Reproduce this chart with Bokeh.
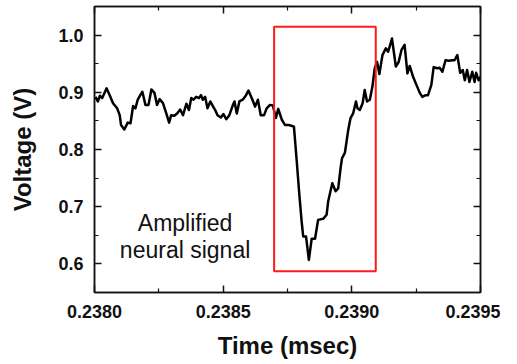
from bokeh.plotting import figure
from bokeh.models import FixedTicker, NumeralTickFormatter, LinearAxis, Range1d
from bokeh.core.properties import value
from bokeh.embed import file_html
from bokeh.resources import INLINE

# ---- data ----
time_ms = [
    0.238004, 0.238013, 0.238021, 0.238030, 0.238047, 0.238059, 0.238072, 0.238088,
    0.238098, 0.238103, 0.238116, 0.238129, 0.238140, 0.238150, 0.238159, 0.238168,
    0.238178, 0.238186, 0.238198, 0.238210, 0.238221, 0.238233, 0.238243, 0.238253,
    0.238266, 0.238279, 0.238290, 0.238298, 0.238310, 0.238321, 0.238333, 0.238344,
    0.238357, 0.238367, 0.238376, 0.238385, 0.238395, 0.238406, 0.238414, 0.238421,
    0.238430, 0.238439, 0.238450, 0.238460, 0.238469, 0.238478, 0.238491, 0.238501,
    0.238512, 0.238524, 0.238538, 0.238544, 0.238553, 0.238563, 0.238576, 0.238589,
    0.238598, 0.238611, 0.238624, 0.238635, 0.238646, 0.238659, 0.238669, 0.238682,
    0.238693, 0.238705, 0.238714, 0.238728, 0.238740, 0.238753, 0.238762, 0.238775,
    0.238786, 0.238796, 0.238805, 0.238811, 0.238822, 0.238833, 0.238844, 0.238857,
    0.238869, 0.238889, 0.238902, 0.238908, 0.238924, 0.238937, 0.238947, 0.238957,
    0.238962, 0.238973, 0.238986, 0.238995, 0.239005, 0.239016, 0.239022, 0.239031,
    0.239042, 0.239050, 0.239059, 0.239070, 0.239080, 0.239089, 0.239098, 0.239107,
    0.239119, 0.239132, 0.239141, 0.239147, 0.239156, 0.239171, 0.239182, 0.239193,
    0.239205, 0.239216, 0.239225, 0.239238, 0.239251, 0.239264, 0.239274, 0.239287,
    0.239296, 0.239309, 0.239318, 0.239331, 0.239341, 0.239352, 0.239364, 0.239377,
    0.239390, 0.239399, 0.239410, 0.239421, 0.239431, 0.239439, 0.239448, 0.239457,
    0.239468, 0.239477, 0.239483, 0.239493, 0.239500,
]
voltage = [
    0.892, 0.884, 0.894, 0.890, 0.907, 0.895, 0.881, 0.872,
    0.860, 0.843, 0.835, 0.847, 0.846, 0.876, 0.872, 0.887,
    0.895, 0.901, 0.878, 0.878, 0.905, 0.899, 0.878, 0.888,
    0.881, 0.863, 0.847, 0.860, 0.859, 0.863, 0.870, 0.860,
    0.880, 0.869, 0.890, 0.887, 0.892, 0.890, 0.895, 0.887,
    0.892, 0.872, 0.884, 0.876, 0.869, 0.860, 0.856, 0.862,
    0.853, 0.860, 0.878, 0.884, 0.863, 0.884, 0.887, 0.895,
    0.903, 0.890, 0.875, 0.887, 0.860, 0.860, 0.872, 0.878,
    0.877, 0.855, 0.871, 0.852, 0.843, 0.843, 0.842, 0.840,
    0.779, 0.721, 0.674, 0.648, 0.648, 0.607, 0.644, 0.644,
    0.677, 0.679, 0.686, 0.709, 0.741, 0.727, 0.732, 0.770,
    0.785, 0.794, 0.834, 0.855, 0.863, 0.884, 0.872, 0.869,
    0.881, 0.904, 0.884, 0.887, 0.910, 0.942, 0.953, 0.932,
    0.965, 0.977, 0.971, 0.980, 0.994, 0.945, 0.953, 0.974,
    0.983, 0.933, 0.946, 0.927, 0.913, 0.899, 0.892, 0.895,
    0.895, 0.913, 0.944, 0.942, 0.943, 0.936, 0.956, 0.955,
    0.956, 0.956, 0.965, 0.934, 0.939, 0.921, 0.939, 0.918,
    0.936, 0.918, 0.934, 0.921, 0.927,
]

x_ticks = [0.2380, 0.2385, 0.2390, 0.2395]
x_minor_ticks = [0.23825, 0.23875, 0.23925]
y_ticks = [0.6, 0.7, 0.8, 0.9, 1.0]
y_minor_ticks = [0.55, 0.65, 0.75, 0.85, 0.95, 1.05]

# highlighted region (red box)
box_left, box_right = 0.238698, 0.239093
box_bottom, box_top = 0.587, 1.0145

# annotation text
note_lines = ["Amplified", "neural signal"]
note_x = [0.238352, 0.238352]
note_y = [0.672, 0.625]

x_range = (0.2380, 0.2395)
y_range = (0.55, 1.05)

FONT = "Liberation Sans"

p = figure(
    output_backend="svg", toolbar_location=None,
    frame_width=386, frame_height=286,
    min_border_left=94, min_border_right=20, min_border_top=6, min_border_bottom=55,
    x_range=Range1d(*x_range), y_range=Range1d(*y_range),
    background_fill_color="white", border_fill_color="white",
)
p.xgrid.visible = False
p.ygrid.visible = False
p.outline_line_color = "#111111"
p.outline_line_width = 1.5

def style_axis(ax, ticks, minor, fmt, show_labels):
    ax.ticker = FixedTicker(ticks=ticks, minor_ticks=minor)
    ax.formatter = NumeralTickFormatter(format=fmt)
    ax.axis_line_color = "#111111"
    ax.axis_line_width = 1.5
    ax.major_tick_line_color = "#111111"
    ax.minor_tick_line_color = "#111111"
    ax.major_tick_line_width = 1.5
    ax.minor_tick_line_width = 1.2
    ax.major_tick_in = 7
    ax.major_tick_out = 0
    ax.minor_tick_in = 4
    ax.minor_tick_out = 0
    if show_labels:
        ax.major_label_text_font = FONT
        ax.major_label_text_font_style = "bold"
        ax.major_label_text_font_size = "18px"
        ax.major_label_text_color = "#111111"
        ax.axis_label_text_font = FONT
        ax.axis_label_text_font_style = "bold"
        ax.axis_label_text_font_size = "24px"
        ax.axis_label_text_color = "#111111"
    else:
        ax.major_label_text_font_size = "0px"
        ax.major_label_text_color = None

xa = p.xaxis[0]
style_axis(xa, x_ticks, x_minor_ticks, "0.0000", True)
xa.axis_label = "Time (msec)"
xa.major_label_standoff = 12
xa.axis_label_standoff = 11

ya = p.yaxis[0]
style_axis(ya, y_ticks, y_minor_ticks, "0.0", True)
ya.axis_label = "Voltage (V)"
ya.major_label_standoff = 11
ya.axis_label_standoff = 19

top_ax = LinearAxis()
style_axis(top_ax, x_ticks, x_minor_ticks, "0.0000", False)
p.add_layout(top_ax, "above")
right_ax = LinearAxis()
style_axis(right_ax, y_ticks, y_minor_ticks, "0.0", False)
p.add_layout(right_ax, "right")

p.line(time_ms, voltage, line_color="#000000", line_width=2.5, line_join="round")

p.quad(left=[box_left], right=[box_right], bottom=[box_bottom], top=[box_top],
       fill_color=None, line_color="#ff1a1a", line_width=2)

p.text(x=note_x, y=note_y, text=note_lines, text_align="center",
       text_baseline="alphabetic", text_font=value(FONT),
       text_font_size="23px", text_color="#111111")

open("out.html", "w").write(file_html(p, INLINE))
